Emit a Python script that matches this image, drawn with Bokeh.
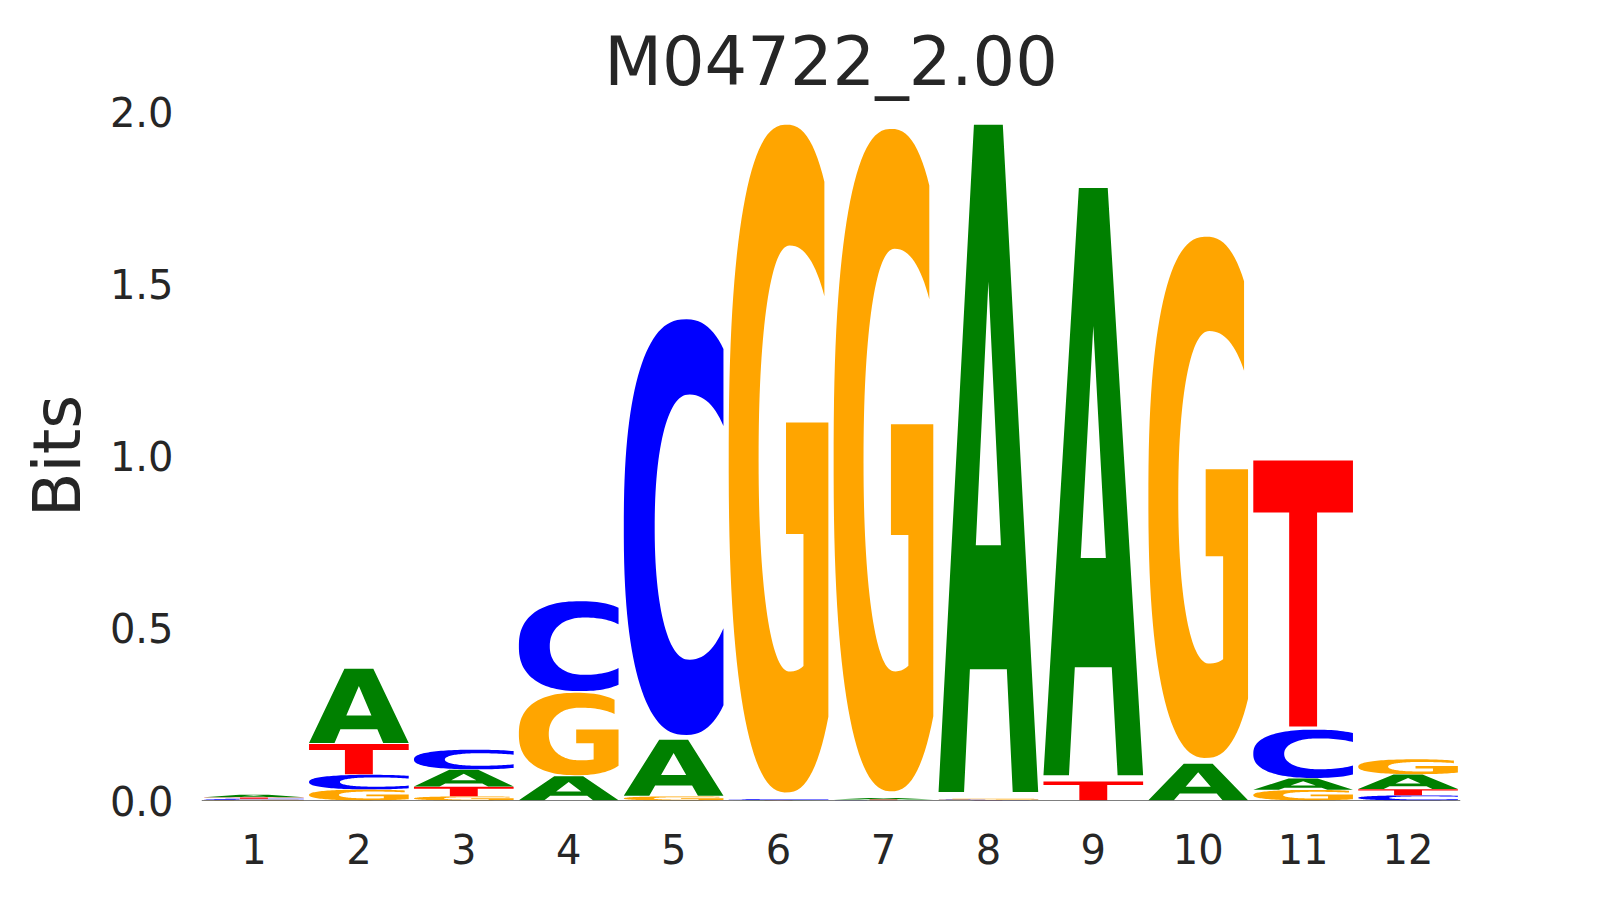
import numpy as np
from bokeh.plotting import figure
from bokeh.models import Range1d, FixedTicker, ColumnDataSource, Span, NumeralTickFormatter
from bokeh.embed import file_html
from bokeh.resources import INLINE

# ---------------- data ----------------
title_text = "M04722_2.00"
y_label = "Bits"
positions = [1, 2, 3, 4, 5, 6, 7, 8, 9, 10, 11, 12]
x_tick_labels = ["1", "2", "3", "4", "5", "6", "7", "8", "9", "10", "11", "12"]
y_ticks = [0.0, 0.5, 1.0, 1.5, 2.0]
letters = ["A", "C", "G", "T"]
A = [0.008, 0.220, 0.050, 0.071, 0.166, 0.001, 0.004, 1.976, 1.739, 0.108, 0.033, 0.043]
C = [0.003, 0.043, 0.058, 0.266, 1.231, 0.002, 0.001, 0.002, 0.000, 0.000, 0.143, 0.015]
G = [0.002, 0.032, 0.012, 0.244, 0.012, 1.978, 1.962, 0.002, 0.000, 1.544, 0.031, 0.044]
T = [0.004, 0.090, 0.028, 0.000, 0.000, 0.0005, 0.002, 0.001, 0.056, 0.000, 0.788, 0.018]
heights = {"A": A, "C": C, "G": G, "T": T}
colors = {"A": "#008000", "C": "#0000ff", "G": "#ffa500", "T": "#ff0000"}

# ---------------- glyph templates (unit box) ----------------
def arc(cx, cy, rxl, rxr, ry, n, t0, t1, num=90):
    t = np.radians(np.linspace(t0, t1, num))
    c, s = np.cos(t), np.sin(t)
    e = 2.0 / n
    rx = np.where(c < 0, rxl, rxr)
    x = cx + rx * np.sign(c) * np.abs(c) ** e
    y = cy + ry * np.sign(s) * np.abs(s) ** e
    return list(x), list(y)


def theta_at(cx, rx, n, xt):
    return float(np.degrees(np.arccos(((xt - cx) / rx) ** (n / 2.0))))


def glyph_A():
    outer = ([0.0, 0.256, 0.3147, 0.6853, 0.744, 1.0, 0.645, 0.355],
             [0.0, 0.0, 0.184, 0.184, 0.0, 0.0, 1.0, 1.0])
    hole = ([0.374, 0.626, 0.5], [0.37, 0.37, 0.765])
    return [outer, hole]


def glyph_C():
    n_o, n_i = 2.4, 2.2
    to = theta_at(0.62, 0.62, n_o, 1.0)
    ox, oy = arc(0.62, 0.5, 0.62, 0.62, 0.5, n_o, to, 360 - to)
    ti = theta_at(0.655, 0.496, n_i, 1.0)
    ix, iy = arc(0.655, 0.5, 0.345, 0.496, 0.319, n_i, 360 - ti, ti)
    return [(ox + ix, oy + iy)]


def glyph_G():
    n_o, n_i = 2.4, 2.2
    t_top = theta_at(0.58, 0.58, n_o, 0.96)
    t_bot = 360 - theta_at(0.58, 0.58, n_o, 1.0)
    ox, oy = arc(0.58, 0.5, 0.58, 0.58, 0.5, n_o, t_top, t_bot)
    bx = [1.0, 0.575, 0.575, 0.75]
    by = [0.554, 0.554, 0.387, 0.387]
    t_s = 360 - theta_at(0.614, 0.497, n_i, 0.75)
    t_e = theta_at(0.614, 0.497, n_i, 0.96)
    ix, iy = arc(0.614, 0.5, 0.314, 0.497, 0.319, n_i, t_s, t_e)
    return [(ox + bx + ix, oy + by + iy)]


def glyph_T():
    return [([0.0, 1.0, 1.0, 0.64, 0.64, 0.36, 0.36, 0.0],
             [1.0, 1.0, 0.804, 0.804, 0.0, 0.0, 0.804, 0.804])]


templates = {"A": glyph_A(), "C": glyph_C(), "G": glyph_G(), "T": glyph_T()}
WIDTH = 0.95
VPAD = 0.02

xs, ys, fills = [], [], []
for i, pos in enumerate(positions):
    col = sorted(letters, key=lambda L: heights[L][i])
    y0 = 0.0
    for L in col:
        h = heights[L][i]
        if h <= 0:
            continue
        rings_x, rings_y = [], []
        for (u, v) in templates[L]:
            rings_x.append([pos - WIDTH / 2 + WIDTH * a for a in u])
            rings_y.append([y0 + h * (VPAD / 2 + (1 - VPAD) * b) for b in v])
        xs.append([rings_x])
        ys.append([rings_y])
        fills.append(colors[L])
        y0 += h

src = ColumnDataSource(dict(xs=xs, ys=ys, color=fills))

# ---------------- figure ----------------
p = figure(width=1600, height=880, output_backend="svg", toolbar_location=None,
           x_range=Range1d(0.5, 12.5), y_range=Range1d(0.0, 2.0),
           frame_width=1259, frame_height=689,
           min_border_left=201, min_border_top=111, min_border_right=140, min_border_bottom=80)

p.multi_polygons(xs="xs", ys="ys", source=src, fill_color="color", line_color=None)
p.add_layout(Span(location=0, dimension="width", line_color="black", line_width=1))

FONT = "DejaVu Sans"
TXT = "#262626"
p.title.text = title_text
p.title.align = "center"
p.title.text_font = FONT
p.title.text_font_size = "67px"
p.title.text_font_style = "normal"
p.title.text_color = TXT
p.title.standoff = 22

for ax in (p.xaxis[0], p.yaxis[0]):
    ax.axis_line_color = None
    ax.major_tick_line_color = None
    ax.minor_tick_line_color = None
    ax.major_tick_out = 0
    ax.major_tick_in = 0
    ax.major_label_text_font = FONT
    ax.major_label_text_font_size = "40px"
    ax.major_label_text_color = TXT

p.xaxis.ticker = FixedTicker(ticks=positions)
p.xaxis.major_label_overrides = {pos: lab for pos, lab in zip(positions, x_tick_labels)}
p.xaxis.major_label_standoff = 33
p.yaxis.ticker = FixedTicker(ticks=y_ticks)
p.yaxis.formatter = NumeralTickFormatter(format="0.0")
p.yaxis.major_label_standoff = 28
p.yaxis.axis_label = y_label
p.yaxis.axis_label_text_font = FONT
p.yaxis.axis_label_text_font_size = "65px"
p.yaxis.axis_label_text_font_style = "normal"
p.yaxis.axis_label_text_color = TXT
p.yaxis.axis_label_standoff = 12

p.grid.visible = False
p.outline_line_color = None

open("out.html", "w").write(file_html(p, INLINE))
